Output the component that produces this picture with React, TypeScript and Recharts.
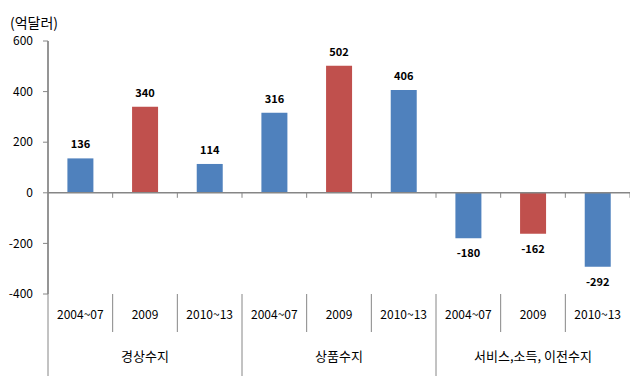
import { BarChart, Bar, XAxis, YAxis, Cell, LabelList, ReferenceLine } from "recharts"

const periods = ["2004~07", "2009", "2010~13", "2004~07", "2009", "2010~13", "2004~07", "2009", "2010~13"]
const groups = ["경상수지", "상품수지", "서비스,소득, 이전수지"]
const values = [136, 340, 114, 316, 502, 406, -180, -162, -292]
const yTicks = [-400, -200, 0, 200, 400, 600]

const BLUE = "#4F81BD"
const RED = "#C0504D"
const GRID = "#868686"
const FONT = "'Noto Sans CJK KR', 'Noto Sans', sans-serif"

const data = periods.map((p, i) => ({ key: `${i}`, period: p, value: values[i] }))

const BAND = (630 - 48) / 9

function CategoryTick(props: any) {
  const { x, y, payload, index } = props
  const half = payload?.offset || BAND / 2
  const left = x - half
  const right = x + half
  const groupIdx = Math.floor(index / 3)
  const pos = index % 3
  return (
    <g>
      <text x={x} y={y + 22} textAnchor="middle" dominantBaseline="middle" fontSize={12} fill="#000" fontFamily={FONT}>
        {periods[index]}
      </text>
      {index === 0 && <line x1={left} x2={left} y1={y - 253} y2={y + 82} stroke={GRID} strokeWidth={1} />}
      {pos < 2 && <line x1={right} x2={right} y1={y} y2={y + 38} stroke={GRID} strokeWidth={1} />}
      {pos === 2 && index < 8 && <line x1={right} x2={right} y1={y} y2={y + 82} stroke={GRID} strokeWidth={1} />}
      {pos === 1 && (
        <text x={x} y={y + 63} textAnchor="middle" dominantBaseline="middle" fontSize={13} fill="#000" fontFamily={FONT}>
          {groups[groupIdx]}
        </text>
      )}
    </g>
  )
}

function ZeroLine(props: any) {
  const { x1, x2, y1 } = props
  const w = (x2 - x1) / values.length
  return (
    <g>
      <line x1={x1} x2={x2} y1={y1} y2={y1} stroke={GRID} strokeWidth={1.5} />
      {values.map((_, i) => (
        <line key={i} x1={x1 + (i + 1) * w} x2={x1 + (i + 1) * w} y1={y1} y2={y1 + 5} stroke={GRID} strokeWidth={1} />
      ))}
    </g>
  )
}

function ValueLabel(props: any) {
  const { x, y, width, height, value } = props
  const top = Math.min(y, y + height)
  const bottom = Math.max(y, y + height)
  const cy = value >= 0 ? top - 13 : bottom + 16
  return (
    <text x={x + width / 2} y={cy} textAnchor="middle" dominantBaseline="middle" fontSize={11} fontWeight="bold" fill="#000" fontFamily={FONT}>
      {value}
    </text>
  )
}

export default function App() {
  return (
    <div style={{ position: "absolute", left: 0, top: 0, width: 630, height: 376, background: "#fff" }}>
      <div style={{ position: "absolute", left: 10, top: 12, fontSize: 14, fontFamily: FONT, color: "#000", lineHeight: "20px" }}>
        (억달러)
      </div>
      <BarChart width={630} height={376} data={data} margin={{ top: 41, right: 0, bottom: 0, left: 0 }} barCategoryGap="30%">
        <XAxis dataKey="key" height={82} axisLine={false} tickLine={false} tickSize={0} tickMargin={0} interval={0} tick={<CategoryTick />} />
        <YAxis
          width={48}
          domain={[-400, 600]}
          ticks={yTicks}
          interval={0}
          allowDataOverflow
          axisLine={{ stroke: GRID, strokeWidth: 1.5 }}
          tickLine={{ stroke: GRID }}
          tickSize={5}
          tickMargin={10}
          tick={{ fontSize: 12, fill: "#000", fontFamily: FONT }}
        />
        <ReferenceLine y={0} stroke={GRID} shape={<ZeroLine />} />
        <Bar dataKey="value" isAnimationActive={false}>
          {data.map((d, i) => (
            <Cell key={d.key} fill={i % 3 === 1 ? RED : BLUE} />
          ))}
          <LabelList dataKey="value" content={<ValueLabel />} />
        </Bar>
      </BarChart>
    </div>
  )
}
